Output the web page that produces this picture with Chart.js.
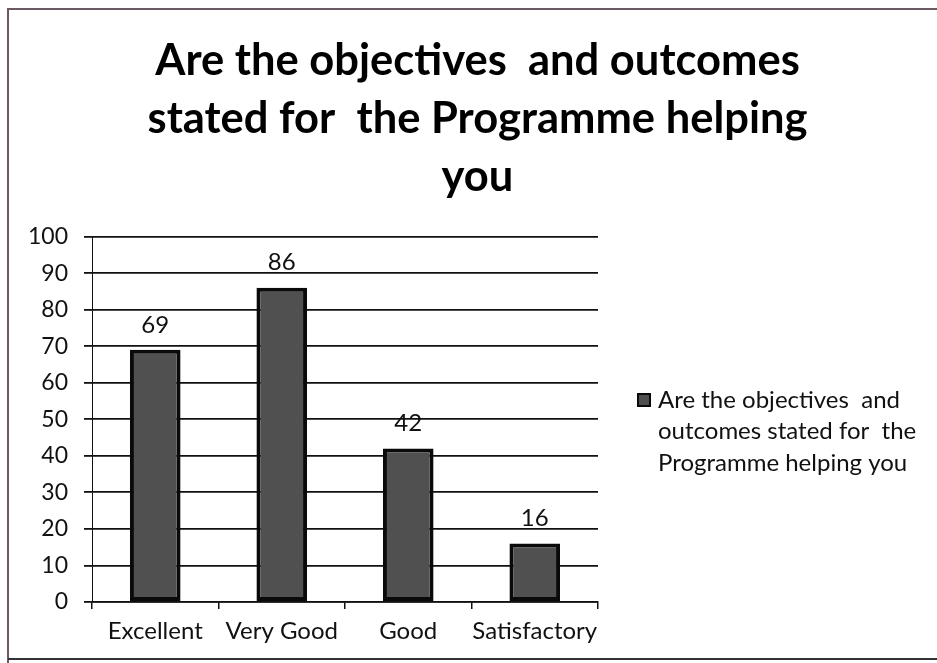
<!DOCTYPE html>
<html>
<head>
<meta charset="utf-8">
<title>Are the objectives and outcomes stated for the Programme helping you</title>
<script src="https://cdn.jsdelivr.net/npm/chart.js@4.4.1/dist/chart.umd.min.js"></script>
<style>
  html, body { margin: 0; padding: 0; background: #ffffff; }
  canvas { display: block; }
</style>
</head>
<body>
<canvas id="chart" width="937" height="663"></canvas>
<script>
// Survey responses
const categories = ['Excellent', 'Very Good', 'Good', 'Satisfactory'];
const responses = [69, 86, 42, 16];
const yTicks = [0, 10, 20, 30, 40, 50, 60, 70, 80, 90, 100];
const titleLines = ['Are the objectives  and outcomes', 'stated for  the Programme helping', 'you'];
const legendLines = ['Are the objectives  and', 'outcomes stated for  the', 'Programme helping you'];

const FONT = "Lato, 'Open Sans', 'Liberation Sans', sans-serif";
const BAR_FILL = '#505050';
const BAR_EDGE = '#0a0a0a';

// Value labels above each bar
const valueLabels = {
  id: 'valueLabels',
  afterDatasetsDraw(chart) {
    const ctx = chart.ctx;
    const meta = chart.getDatasetMeta(0);
    const data = chart.data.datasets[0].data;
    ctx.save();
    ctx.font = '24px ' + FONT;
    ctx.fillStyle = '#111';
    ctx.textAlign = 'center';
    ctx.textBaseline = 'middle';
    meta.data.forEach((bar, i) => {
      ctx.fillText(String(data[i]), bar.x, bar.y - 25);
    });
    ctx.restore();
  }
};

// Legend on the right with the wrapped series name, plus the outer frame
const sideLegend = {
  id: 'sideLegend',
  afterDraw(chart) {
    const ctx = chart.ctx;
    const ds = chart.data.datasets[0];
    const x0 = chart.chartArea.right + 40;
    const y0 = 400;
    ctx.save();
    ctx.fillStyle = ds.backgroundColor;
    ctx.strokeStyle = ds.borderColor;
    ctx.lineWidth = 2;
    ctx.fillRect(x0, y0 - 6, 12, 12);
    ctx.strokeRect(x0, y0 - 6, 12, 12);
    ctx.font = '24px ' + FONT;
    ctx.fillStyle = '#111';
    ctx.textAlign = 'left';
    ctx.textBaseline = 'middle';
    legendLines.forEach((line, i) => {
      ctx.fillText(line, x0 + 20, y0 + i * 31.5);
    });
    // page frame
    ctx.strokeStyle = '#6b5a64';
    ctx.lineWidth = 2;
    ctx.beginPath();
    ctx.moveTo(8, 663);
    ctx.lineTo(8, 9);
    ctx.lineTo(937, 9);
    ctx.stroke();
    ctx.strokeStyle = '#333';
    ctx.beginPath();
    ctx.moveTo(8, 659);
    ctx.lineTo(937, 659);
    ctx.stroke();
    ctx.restore();
  }
};

new Chart(document.getElementById('chart'), {
  type: 'bar',
  data: {
    labels: categories,
    datasets: [{
      label: legendLines.join(' '),
      data: responses,
      backgroundColor: BAR_FILL,
      borderColor: BAR_EDGE,
      borderWidth: 4,
      borderSkipped: false,
      barPercentage: 0.4,
      categoryPercentage: 1.0
    }]
  },
  options: {
    responsive: false,
    devicePixelRatio: 1,
    animation: false,
    layout: { padding: { left: 18, right: 0, top: 0, bottom: 0 } },
    plugins: {
      legend: { display: false },
      tooltip: { enabled: false },
      title: {
        display: true,
        text: titleLines,
        color: '#000',
        font: { family: FONT, size: 43.5, weight: 'bold', lineHeight: 1.33 },
        padding: { top: 32, bottom: 31 }
      }
    },
    scales: {
      x: {
        offset: true,
        grid: {
          offset: true,
          drawOnChartArea: false,
          drawTicks: true,
          tickLength: 7,
          color: '#111',
          lineWidth: 1.5
        },
        border: { display: true, color: '#111', width: 1.5 },
        ticks: {
          color: '#111',
          font: { family: FONT, size: 24 },
          padding: 8,
          autoSkip: false,
          maxRotation: 0
        },
        afterFit(scale) { scale.height = 61; }
      },
      y: {
        min: 0,
        max: 100,
        afterBuildTicks(scale) { scale.ticks = yTicks.map(v => ({ value: v })); },
        grid: {
          color: '#111',
          lineWidth: 1.8,
          tickLength: 8,
          drawTicks: true
        },
        border: { display: true, color: '#111', width: 1 },
        ticks: {
          color: '#111',
          font: { family: FONT, size: 23 },
          padding: 16
        },
        afterFit(scale) { scale.width = 74; }
      },
      // blank right-hand gutter that holds the legend column
      gutter: {
        position: 'right',
        display: true,
        grid: { display: false },
        border: { display: false },
        ticks: { display: false },
        afterFit(scale) { scale.width = 339; }
      }
    }
  },
  plugins: [valueLabels, sideLegend]
});
</script>
</body>
</html>
